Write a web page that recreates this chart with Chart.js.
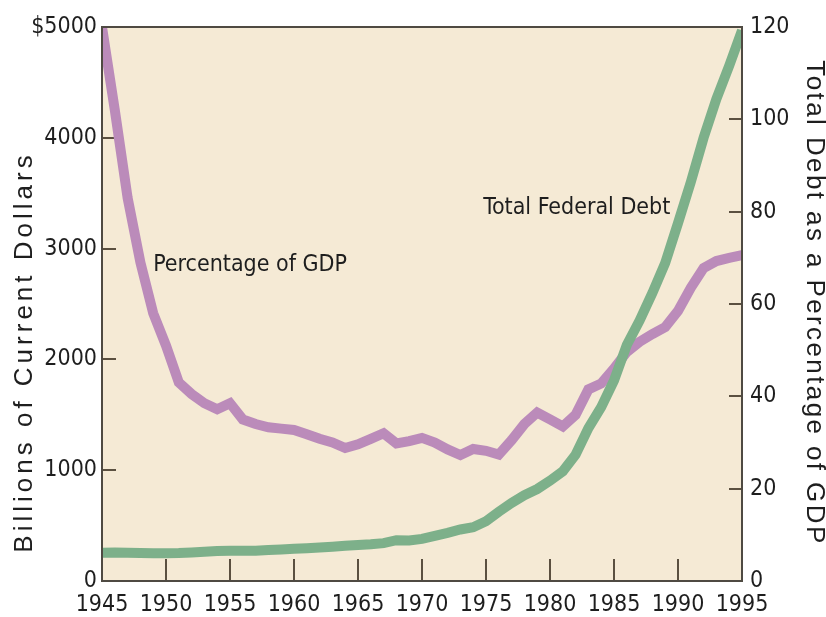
<!DOCTYPE html>
<html>
<head>
<meta charset="utf-8">
<script src="https://cdn.jsdelivr.net/npm/chart.js@4.4.1/dist/chart.umd.min.js"></script>
<style>
  html, body { margin: 0; padding: 0; background: #fff; }
  #wrap { width: 826px; height: 617px; position: relative; }
</style>
</head>
<body>
<div id="wrap"><canvas id="debtChart"></canvas></div>
<script>
const years = [1945, 1946, 1947, 1948, 1949, 1950, 1951, 1952, 1953, 1954,
  1955, 1956, 1957, 1958, 1959, 1960, 1961, 1962, 1963, 1964,
  1965, 1966, 1967, 1968, 1969, 1970, 1971, 1972, 1973, 1974,
  1975, 1976, 1977, 1978, 1979, 1980, 1981, 1982, 1983, 1984,
  1985, 1986, 1987, 1988, 1989, 1990, 1991, 1992, 1993, 1994, 1995];

// total federal debt, billions of current dollars (left axis)
const totalDebt = [255, 258, 255, 252, 250, 250, 252, 258, 265, 270,
  272, 272, 274, 280, 285, 290, 295, 302, 310, 318,
  325, 332, 342, 368, 366, 380, 408, 435, 465, 485,
  540, 625, 705, 775, 830, 905, 990, 1140, 1380, 1570,
  1810, 2130, 2350, 2600, 2870, 3230, 3600, 4000, 4350, 4650, 4970];

// debt as a percentage of GDP (right axis)
const pctOfGdp = [120, 102, 83, 69, 58, 51, 43, 40.5, 38.5, 37.2,
  38.5, 35, 34, 33.3, 33, 32.7, 31.8, 30.8, 30, 28.8,
  29.6, 30.8, 32, 29.8, 30.3, 31, 30, 28.5, 27.3, 28.6,
  28.2, 27.4, 30.5, 34, 36.5, 35, 33.5, 36, 41.5, 42.8,
  46, 49.6, 51.8, 53.5, 55, 58.5, 63.5, 67.8, 69.3, 70, 70.6];

const narrow = '"Liberation Sans Narrow", "DejaVu Sans Condensed", "Liberation Sans", sans-serif';
const regular = '"Liberation Sans", Arial, sans-serif';
const tickColor = '#5b5040';

Chart.defaults.font.family = narrow;
Chart.defaults.font.size = 23;
Chart.defaults.color = '#1e1e1e';

// keep tick label overhang from pushing the plot area around
const noPad = (s) => {
  s.paddingTop = 0;
  s.paddingBottom = 0;
  s.paddingLeft = 0;
  s.paddingRight = 0;
};

const plotFrame = {
  id: 'plotFrame',
  beforeDraw(chart) {
    const { ctx, chartArea: a } = chart;
    ctx.save();
    ctx.fillStyle = '#f5ead5';
    ctx.fillRect(a.left, a.top, a.right - a.left, a.bottom - a.top);
    ctx.restore();
  },
  afterDraw(chart) {
    const { ctx, chartArea: a, scales } = chart;
    ctx.save();
    ctx.strokeStyle = '#4f4a42';
    ctx.lineWidth = 2;
    ctx.strokeRect(a.left, a.top, a.right - a.left, a.bottom - a.top);

    // series labels, placed in data units
    ctx.fillStyle = '#1e1e1e';
    ctx.font = '23px ' + narrow;
    ctx.textBaseline = 'middle';
    ctx.textAlign = 'left';
    ctx.fillText('Percentage of GDP', scales.x.getPixelForValue(1949), scales.y1.getPixelForValue(68.4));
    ctx.textAlign = 'right';
    ctx.fillText('Total Federal Debt', scales.x.getPixelForValue(1989.4), scales.y1.getPixelForValue(80.8));

    // axis titles
    ctx.font = '26px ' + regular;
    ctx.textAlign = 'center';
    ctx.save();
    ctx.letterSpacing = '4px';
    ctx.translate(25, 352);
    ctx.rotate(-Math.PI / 2);
    ctx.fillText('Billions of Current Dollars', 0, 0);
    ctx.restore();
    ctx.save();
    ctx.letterSpacing = '2.4px';
    ctx.translate(814, 303);
    ctx.rotate(Math.PI / 2);
    ctx.fillText('Total Debt as a Percentage of GDP', 0, 0);
    ctx.restore();
    ctx.restore();
  }
};

new Chart(document.getElementById('debtChart'), {
  type: 'line',
  data: {
    datasets: [
      {
        label: 'Total Federal Debt',
        data: years.map((yr, i) => ({ x: yr, y: totalDebt[i] })),
        yAxisID: 'y',
        borderColor: '#7db08a',
        borderWidth: 10,
        pointRadius: 0,
        tension: 0,
      },
      {
        label: 'Percentage of GDP',
        data: years.map((yr, i) => ({ x: yr, y: pctOfGdp[i] })),
        yAxisID: 'y1',
        borderColor: '#bb8bba',
        borderWidth: 10,
        pointRadius: 0,
        tension: 0,
      },
    ],
  },
  options: {
    responsive: true,
    maintainAspectRatio: false,
    animation: false,
    layout: { padding: { top: 27, left: 0, right: 0, bottom: 0 } },
    plugins: {
      legend: { display: false },
      tooltip: { enabled: false },
    },
    scales: {
      x: {
        type: 'linear',
        min: 1945,
        max: 1995,
        afterFit: (s) => { s.height = 36; noPad(s); },
        border: { display: false },
        grid: {
          drawOnChartArea: false,
          tickLength: -22,
          color: tickColor,
          lineWidth: 2,
        },
        ticks: {
          stepSize: 5,
          autoSkip: false,
          maxRotation: 0,
          padding: 32,
          callback: (v) => String(v),
        },
      },
      y: {
        position: 'left',
        min: 0,
        max: 5000,
        afterFit: (s) => { s.width = 102; noPad(s); },
        border: { display: false },
        grid: {
          drawOnChartArea: false,
          tickLength: -14,
          color: tickColor,
          lineWidth: 2,
        },
        ticks: {
          stepSize: 1000,
          padding: 19,
          callback: (v) => (v === 5000 ? '$5000' : String(v)),
        },
      },
      y1: {
        position: 'right',
        min: 0,
        max: 120,
        afterFit: (s) => { s.width = 84; noPad(s); },
        border: { display: false },
        grid: {
          drawOnChartArea: false,
          tickLength: -13,
          color: tickColor,
          lineWidth: 2,
        },
        ticks: {
          stepSize: 20,
          padding: 21,
          callback: (v) => String(v),
        },
      },
    },
  },
  plugins: [plotFrame],
});
</script>
</body>
</html>
